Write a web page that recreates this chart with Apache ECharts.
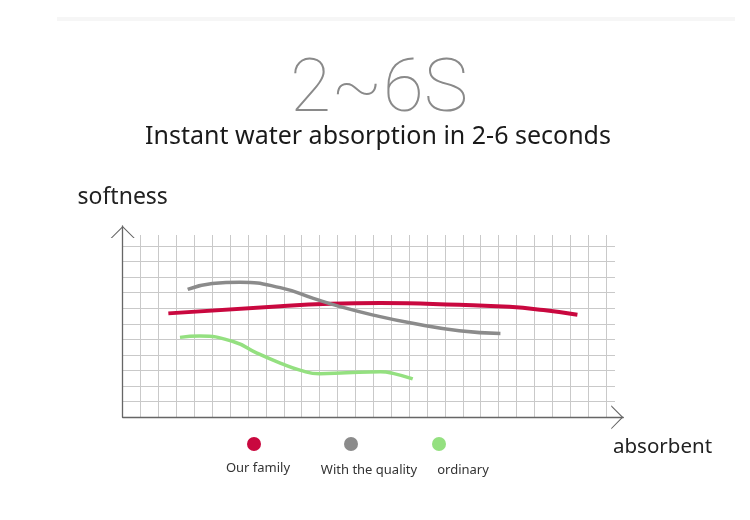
<!DOCTYPE html>
<html><head><meta charset="utf-8">
<script src="https://cdn.jsdelivr.net/npm/echarts@6/dist/echarts.min.js"></script>
<style>html,body{margin:0;padding:0;background:#fff}#c{width:750px;height:520px}</style>
</head><body><div id="c"></div>
<script>
// ---- data ----
const seriesNames = ['Our family', 'With the quality', 'ordinary'];
const ourFamily   = [[2.55,6.67],[8.8,7.13],[11.6,7.28],[14.4,7.33],[18.8,7.22],[21.6,7.09],[23.5,6.88],[25.4,6.58]];
const withQuality = [[3.63,8.21],[5,8.58],[6.55,8.67],[8.8,8.32],[10.65,7.63],[12,7.15],[14,6.56],[16.2,6.03],[18.8,5.56],[21.1,5.38]];
const ordinary    = [[3.2,5.13],[4.3,5.21],[6.2,4.85],[7.5,4.12],[8.8,3.48],[9.9,3.03],[11,2.79],[12.5,2.86],[14.4,2.92],[15.1,2.82],[16.2,2.46]];
const seriesData  = [ourFamily, withQuality, ordinary];
const titleText = '2~6S';
const subtitleText = 'Instant water absorption in 2-6 seconds';
const yAxisName = 'softness';
const xAxisName = 'absorbent';

// ---- styles ----
const colors = ['#c9083f', '#8b8b8b', '#94e080'];
const lineWidths = [4, 3.5, 3.5];
const legendLeft = [247, 344, 432];
const labelPos = [[258, 468], [369, 470], [463, 470]];
const chevron = 'path://M0,12 L12,0 L24,12 L22.6,12 L12,1.6 L1.4,12 Z';
const gridColor = '#c9c9c9';
const axisColor = '#666';

const chart = echarts.init(document.getElementById('c'));
const arrowAxis = (extra) => Object.assign({
  gridIndex: 1, type: 'value', min: 0, max: 1,
  axisLine: { show: true, onZero: false, lineStyle: { color: axisColor, width: 1.3 },
    symbol: ['none', chevron], symbolSize: [24, 12], symbolOffset: [0, -6] },
  axisTick: { show: false }, axisLabel: { show: false }, splitLine: { show: false }
}, extra);
const gridAxis = (max) => ({
  gridIndex: 0, type: 'value', min: 0, max: max, interval: 1,
  axisLine: { show: false }, axisTick: { show: false }, axisLabel: { show: false },
  splitLine: { show: true, showMinLine: false, showMaxLine: false, lineStyle: { color: gridColor, width: 1 } }
});

chart.setOption({
  backgroundColor: '#fff',
  animation: false,
  title: [
    { text: titleText, left: 379, top: 55, textAlign: 'center', padding: 0,
      textStyle: { fontSize: 75, fontWeight: 100, fontFamily: 'Roboto', color: '#8a8a8a' } },
    { text: subtitleText, left: 378, top: 124, textAlign: 'center', padding: 0,
      textStyle: { fontSize: 25, fontWeight: 'normal', fontFamily: 'Noto Sans', color: '#1a1a1a' } },
    { text: xAxisName, left: 613, top: 437, padding: 0,
      textStyle: { fontSize: 20.5, fontWeight: 'normal', fontFamily: 'Noto Sans', color: '#222' } }
  ],
  grid: [
    { left: 122.7, top: 235, right: 135, bottom: 102.7 },
    { left: 122.7, top: 226, right: 126.7, bottom: 102.7 }
  ],
  xAxis: [ gridAxis(27.5), arrowAxis({}) ],
  yAxis: [ gridAxis(11.7), arrowAxis({ name: yAxisName, nameLocation: 'end', nameGap: 17,
    nameTextStyle: { fontSize: 23, color: '#222', fontFamily: 'Noto Sans' } }) ],
  legend: seriesNames.map((n, i) => ({
    data: [n], left: legendLeft[i], top: 437, padding: 0, icon: 'circle',
    itemWidth: 14, itemHeight: 14, selectedMode: false, formatter: () => ''
  })),
  graphic: [
    { type: 'rect', shape: { x: 57, y: 17, width: 678, height: 4 }, style: { fill: '#f6f6f6' }, silent: true }
  ].concat(seriesNames.map((n, i) => ({
    type: 'text', x: labelPos[i][0], y: labelPos[i][1], silent: true,
    style: { text: n, align: 'center', verticalAlign: 'middle', font: '13px "Noto Sans"', fill: '#333' }
  }))),
  series: seriesNames.map((n, i) => ({
    name: n, type: 'line', xAxisIndex: 0, yAxisIndex: 0, data: seriesData[i],
    smooth: 0.5, showSymbol: false, color: colors[i],
    lineStyle: { width: lineWidths[i], color: colors[i] }
  }))
});
</script></body></html>
